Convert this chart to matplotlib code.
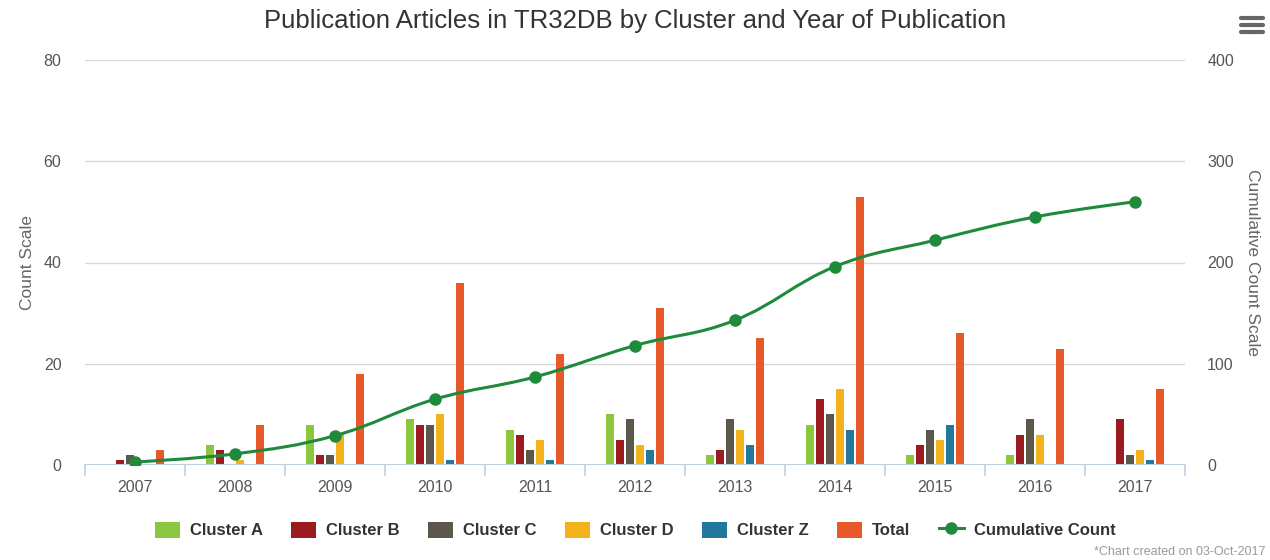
import numpy as np
import matplotlib
matplotlib.use("Agg")
import matplotlib.pyplot as plt
from matplotlib.path import Path
from matplotlib.patches import PathPatch, Patch
from matplotlib.lines import Line2D

years = ["2007", "2008", "2009", "2010", "2011", "2012", "2013", "2014", "2015", "2016", "2017"]
cluster_a = [0, 4, 8, 9, 7, 10, 2, 8, 2, 2, 0]
cluster_b = [1, 3, 2, 8, 6, 5, 3, 13, 4, 6, 9]
cluster_c = [2, 0, 2, 8, 3, 9, 9, 10, 7, 9, 2]
cluster_d = [0, 1, 6, 10, 5, 4, 7, 15, 5, 6, 3]
cluster_z = [0, 0, 0, 1, 1, 3, 4, 7, 8, 0, 1]
total = [3, 8, 18, 36, 22, 31, 25, 53, 26, 23, 15]
cumulative = [3, 11, 29, 65, 87, 118, 143, 196, 222, 245, 260]

series_names = ["Cluster A", "Cluster B", "Cluster C", "Cluster D", "Cluster Z", "Total"]
series_vals = [cluster_a, cluster_b, cluster_c, cluster_d, cluster_z, total]
colors = ["#8cc63e", "#9b1b21", "#5c574b", "#f3b21b", "#21789c", "#e8592a"]
line_color = "#1f8a3b"

plt.rcParams['font.family'] = ['Liberation Sans', 'DejaVu Sans']

fig = plt.figure(figsize=(12.7, 5.6), dpi=100)
ax = fig.add_axes([85/1270, 1-465/560, 1100/1270, 405/560])
ax2 = ax.twinx()

n = len(years)
x = np.arange(n)
bw = 0.072
step = 0.1
for k, (vals, c) in enumerate(zip(series_vals, colors)):
    ax.bar(x + (k - 2.5) * step, vals, width=bw, color=c, zorder=3, linewidth=0)

ax.set_xlim(-0.5, n - 0.5)
ax.set_ylim(0, 80)
ax2.set_ylim(0, 400)
ax.set_yticks([0, 20, 40, 60, 80])
ax2.set_yticks([0, 100, 200, 300, 400])
ax.set_xticks(x)
ax.set_xticklabels(years)
ax.tick_params(axis='x', length=0, pad=11, labelsize=11.5, labelcolor="#555555")
ax.tick_params(axis='y', length=0, pad=17, labelsize=11.5, labelcolor="#555555")
ax2.tick_params(axis='y', length=0, pad=16, labelsize=11.5, labelcolor="#555555")
ax.grid(axis='y', color="#d8d8d8", linewidth=1, zorder=0)
for a in (ax, ax2):
    for s in a.spines.values():
        s.set_visible(False)
ax.axhline(0, color="#c0d0e0", linewidth=1.5, zorder=4)
# category boundary ticks
for b in np.arange(-0.5, n, 1.0):
    ax.plot([b, b], [0, -2.0], color="#c0d0e0", linewidth=1.2, clip_on=False, zorder=4)

ax.set_ylabel("Count Scale", fontsize=12.5, color="#666666", labelpad=6)
ax2.set_ylabel("Cumulative Count Scale", fontsize=12.5, color="#666666", rotation=270, labelpad=19)

# Highcharts-like spline through the cumulative points
xs = x.astype(float)
ys = np.array(cumulative, dtype=float)
sm = 1.5
lc = [(xs[i], ys[i]) for i in range(n)]
rc = [(xs[i], ys[i]) for i in range(n)]
for i in range(1, n - 1):
    lcx = (sm * xs[i] + xs[i-1]) / (sm + 1)
    lcy = (sm * ys[i] + ys[i-1]) / (sm + 1)
    rcx = (sm * xs[i] + xs[i+1]) / (sm + 1)
    rcy = (sm * ys[i] + ys[i+1]) / (sm + 1)
    corr = ((rcy - lcy) * (rcx - xs[i])) / (rcx - lcx) + ys[i] - rcy
    lcy += corr
    rcy += corr
    lc[i] = (lcx, lcy)
    rc[i] = (rcx, rcy)
verts = [(xs[0], ys[0])]
codes = [Path.MOVETO]
for i in range(1, n):
    verts += [rc[i-1], lc[i], (xs[i], ys[i])]
    codes += [Path.CURVE4] * 3
ax2.add_patch(PathPatch(Path(verts, codes), fill=False, edgecolor=line_color, linewidth=2.2, zorder=5))
ax2.plot(xs, ys, 'o', color=line_color, markersize=8, zorder=6)
ax2.set_zorder(ax.get_zorder() + 1)
ax2.patch.set_visible(False)

fig.text(0.5, 1-21/560, "Publication Articles in TR32DB by Cluster and Year of Publication",
         ha='center', va='center', fontsize=18.5, color="#333333")

handles = [Patch(facecolor=c, edgecolor='none') for c in colors]
handles.append(Line2D([0], [0], color=line_color, marker='o', markersize=8, linewidth=2.2))
labels = series_names + ["Cumulative Count"]
leg = fig.legend(handles, labels, loc='center', bbox_to_anchor=(0.5, 1-530/560), ncol=7,
                 frameon=False, fontsize=12, handlelength=1.5, handleheight=1.1,
                 columnspacing=1.7, handletextpad=0.6)
for t in leg.get_texts():
    t.set_fontweight('bold')
    t.set_color("#333333")

fig.text(1265/1270, 1-552/560, "*Chart created on 03-Oct-2017", ha='right', va='center',
         fontsize=9, color="#999999")

# menu icon
for yy in (18, 25, 32):
    fig.add_artist(Line2D([1241/1270, 1263/1270], [1-yy/560, 1-yy/560], color="#666666",
                          linewidth=3, solid_capstyle='round'))

fig.savefig("out.png", dpi=100)
